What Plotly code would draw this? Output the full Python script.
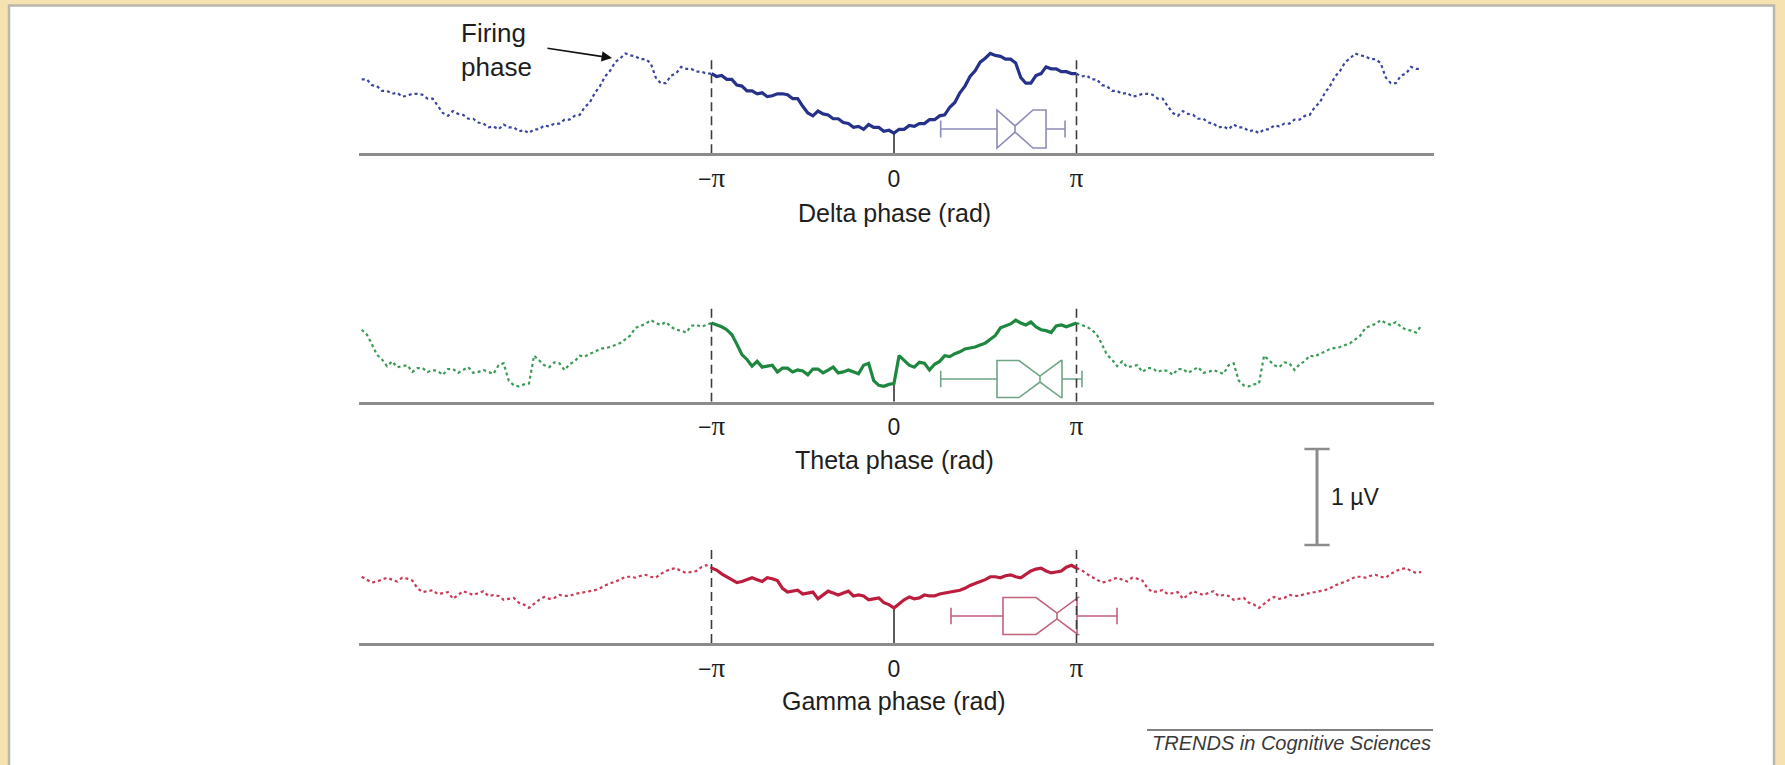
import numpy as np
import plotly.graph_objects as go

PI = np.pi

# ---------------------------------------------------------------------------
# Data
# One phase cycle of the spike-triggered LFP average for each band, sampled at
# 72 evenly spaced phases from -pi (inclusive) to +pi (exclusive), in µV above
# the baseline.  The cycle is repeated on either side of the central period.
# ---------------------------------------------------------------------------
N_PHASE = 72
bands = ["Delta", "Theta", "Gamma"]

delta_uv = [0.83, 0.80, 0.81, 0.77, 0.77, 0.71, 0.70, 0.65, 0.65, 0.62, 0.63, 0.59,
            0.60, 0.62, 0.62, 0.61, 0.57, 0.57, 0.49, 0.42, 0.39, 0.44, 0.41, 0.40,
            0.36, 0.36, 0.32, 0.31, 0.27, 0.28, 0.25, 0.30, 0.27, 0.27, 0.23, 0.24,
            0.21, 0.25, 0.25, 0.29, 0.28, 0.31, 0.31, 0.35, 0.35, 0.39, 0.40, 0.48,
            0.53, 0.63, 0.70, 0.80, 0.86, 0.95, 0.99, 1.04, 1.02, 1.01, 0.98, 0.98,
            0.94, 0.79, 0.73, 0.73, 0.81, 0.83, 0.90, 0.88, 0.88, 0.85, 0.85, 0.83]

theta_uv = [0.82, 0.80, 0.78, 0.75, 0.70, 0.60, 0.49, 0.44, 0.37, 0.42, 0.36, 0.37,
            0.38, 0.31, 0.35, 0.35, 0.31, 0.33, 0.32, 0.28, 0.34, 0.34, 0.30, 0.33,
            0.36, 0.30, 0.31, 0.33, 0.31, 0.29, 0.38, 0.40, 0.22, 0.17, 0.16, 0.18,
            0.19, 0.48, 0.43, 0.38, 0.36, 0.41, 0.40, 0.33, 0.39, 0.42, 0.48, 0.47,
            0.50, 0.52, 0.55, 0.56, 0.57, 0.59, 0.61, 0.65, 0.69, 0.77, 0.79, 0.81,
            0.85, 0.82, 0.80, 0.83, 0.78, 0.75, 0.74, 0.72, 0.79, 0.80, 0.78, 0.80]

gamma_uv = [0.78, 0.76, 0.72, 0.69, 0.66, 0.63, 0.64, 0.66, 0.68, 0.66, 0.64, 0.68,
            0.67, 0.65, 0.57, 0.53, 0.54, 0.55, 0.51, 0.52, 0.53, 0.46, 0.50, 0.54,
            0.52, 0.50, 0.52, 0.54, 0.49, 0.50, 0.49, 0.45, 0.46, 0.47, 0.42, 0.40,
            0.365, 0.41, 0.45, 0.48, 0.46, 0.47, 0.50, 0.49, 0.49, 0.51, 0.52, 0.53,
            0.54, 0.55, 0.57, 0.60, 0.62, 0.64, 0.66, 0.69, 0.69, 0.68, 0.70, 0.71,
            0.69, 0.68, 0.72, 0.75, 0.77, 0.78, 0.75, 0.73, 0.74, 0.75, 0.79, 0.81]

# Firing-phase distributions (radians), one entry per band
box_lowerfence = [0.804, 0.804, 0.981]
box_q1 = [1.773, 1.773, 1.876]
box_median = [2.083, 2.513, 2.806]
box_q3 = [2.617, 2.892, 3.150]
box_upperfence = [2.944, 3.236, 3.839]
box_notchspan = [0.310, 0.361, 0.361]

tick_phases = [-PI, 0.0, PI]
PI_GLYPH = ("<span style='font-family:Liberation Serif, Times New Roman, serif;"
            "font-size:27px'>π</span>")
tick_labels = ["−" + PI_GLYPH, "0", PI_GLYPH]

SCALE_UV = 1.0

# ---------------------------------------------------------------------------
# Layout geometry (pixels of the 1785 x 765 page)
# ---------------------------------------------------------------------------
W, H = 1785, 765
PX_PER_PI = 182.5
ZERO_PX = 894
AX_LEFT_PX, AX_RIGHT_PX = 359, 1434
UV_PX = 96.0
TRACE_LO, TRACE_HI = -2.926 * PI, 2.90 * PI


def px_x(px):
    return px / W


def px_y(py):
    return 1 - py / H


x_range = [(AX_LEFT_PX - ZERO_PX) / PX_PER_PI * PI,
           (AX_RIGHT_PX - ZERO_PX) / PX_PER_PI * PI]

panel_style = [
    dict(base=153.3, top=26, line="#26328a", dots="#3a479f", box="#8c8cba",
         box_y=0.253, box_h=0.396, title_y=213),
    dict(base=401.7, top=288, line="#1e8740", dots="#3b9b56", box="#6fa585",
         box_y=0.236, box_h=0.385, title_y=460),
    dict(base=643.0, top=530, line="#bd1d3c", dots="#c83a55", box="#c4607a",
         box_y=0.281, box_h=0.385, title_y=701),
]
series = [delta_uv, theta_uv, gamma_uv]

FONT = "Liberation Sans, Arial, Helvetica, sans-serif"
INK = "#1e1e1e"
AXIS_GREY = "#8c8c8c"

fig = go.Figure()
annotations = []
shapes = []
axes = {}

base_phase = -PI + 2 * PI * np.arange(N_PHASE) / N_PHASE

for i, (band, vals, st) in enumerate(zip(bands, series, panel_style)):
    n = i + 1
    xa, ya = ("x", "y") if n == 1 else (f"x{n}", f"y{n}")
    v = np.array(vals, dtype=float)

    # central period, closed at +pi
    ph_c = np.append(base_phase, PI)
    v_c = np.append(v, v[0])
    # neighbouring periods
    ph_l = ph_c - 2 * PI
    keep_l = ph_l >= TRACE_LO
    ph_r = ph_c + 2 * PI
    keep_r = ph_r <= TRACE_HI

    for ph, vv in ((ph_l[keep_l], v_c[keep_l]), (ph_r[keep_r], v_c[keep_r])):
        fig.add_trace(go.Scatter(x=ph, y=vv, mode="lines", xaxis=xa, yaxis=ya,
                                 line=dict(color=st["dots"], width=2.2, dash="dot"),
                                 hoverinfo="skip", showlegend=False))

    # dashed period boundaries at -pi and +pi
    fig.add_trace(go.Scatter(x=[-PI, -PI, None, PI, PI], y=[0, 0.99, None, 0, 0.99],
                             mode="lines", xaxis=xa, yaxis=ya,
                             line=dict(color="#3c3c3c", width=1.6, dash="9px,5px"),
                             hoverinfo="skip", showlegend=False))

    # stem from the baseline up to the average at zero phase
    fig.add_trace(go.Scatter(x=[0, 0], y=[0, v[N_PHASE // 2]], mode="lines",
                             xaxis=xa, yaxis=ya,
                             line=dict(color="#333333", width=1.6),
                             hoverinfo="skip", showlegend=False))

    fig.add_trace(go.Scatter(x=ph_c, y=v_c, mode="lines", xaxis=xa, yaxis=ya,
                             line=dict(color=st["line"], width=3.2),
                             hoverinfo="skip", showlegend=False))

    fig.add_trace(go.Box(
        y=[st["box_y"]], orientation="h",
        lowerfence=[box_lowerfence[i]], q1=[box_q1[i]], median=[box_median[i]],
        q3=[box_q3[i]], upperfence=[box_upperfence[i]], notchspan=[box_notchspan[i]],
        notched=True, notchwidth=0.42, whiskerwidth=0.45, width=st["box_h"],
        fillcolor="rgba(0,0,0,0)", line=dict(color=st["box"], width=1.6),
        boxpoints=False, xaxis=xa, yaxis=ya, hoverinfo="skip", showlegend=False))

    axes[f"xaxis{'' if n == 1 else n}"] = dict(
        domain=[px_x(AX_LEFT_PX), px_x(AX_RIGHT_PX)], range=x_range, anchor=ya,
        showline=True, linecolor=AXIS_GREY, linewidth=3, showgrid=False, zeroline=False,
        tickmode="array", tickvals=tick_phases, ticktext=tick_labels,
        ticks="outside", ticklen=3, tickcolor="rgba(0,0,0,0)",
        tickfont=dict(family=FONT, size=23, color=INK), fixedrange=True)
    axes[f"yaxis{'' if n == 1 else n}"] = dict(
        domain=[px_y(st["base"]), px_y(st["top"])],
        range=[0, (st["base"] - st["top"]) / UV_PX], anchor=xa,
        visible=False, showgrid=False, zeroline=False, fixedrange=True)

    annotations.append(dict(text=f"{band} phase (rad)", xref=xa, x=0, yref="paper",
                            y=px_y(st["title_y"]), xanchor="center", yanchor="middle",
                            showarrow=False, font=dict(family=FONT, size=25, color=INK)))

# 1 µV scale bar on its own small axis pair with the same µV-to-pixel scale
axes["xaxis4"] = dict(domain=[px_x(1300), px_x(1334)], range=[-1, 1], anchor="y4",
                      visible=False, fixedrange=True)
axes["yaxis4"] = dict(domain=[px_y(449 + SCALE_UV * UV_PX), px_y(449)], range=[0, SCALE_UV],
                      anchor="x4", visible=False, fixedrange=True)
fig.add_trace(go.Scatter(x=[0, 0], y=[0, SCALE_UV], mode="lines+markers",
                         xaxis="x4", yaxis="y4", cliponaxis=False,
                         line=dict(color=AXIS_GREY, width=3),
                         marker=dict(symbol="line-ew", size=18,
                                     line=dict(color=AXIS_GREY, width=2.5)),
                         hoverinfo="skip", showlegend=False))
annotations.append(dict(text="1 µV", xref="paper", x=px_x(1329), yref="paper",
                        y=px_y(497), xanchor="left", yanchor="middle", showarrow=False,
                        font=dict(family=FONT, size=23, color=INK)))

# firing-phase callout
annotations.append(dict(text="Firing<br>phase", xref="paper", x=px_x(459), yref="paper",
                        y=px_y(50), xanchor="left", yanchor="middle", align="left",
                        showarrow=False, font=dict(family=FONT, size=26, color=INK)))
annotations.append(dict(text="", xref="paper", x=px_x(612), yref="paper", y=px_y(58),
                        ax=-66, ay=-10, axref="pixel", ayref="pixel", showarrow=True,
                        arrowhead=2, arrowsize=1.3, arrowwidth=1.6, arrowcolor="#111111"))

# journal credit
annotations.append(dict(text="<i>TRENDS in Cognitive Sciences</i>", xref="paper",
                        x=px_x(1433), yref="paper", y=px_y(743), xanchor="right",
                        yanchor="middle", showarrow=False,
                        font=dict(family=FONT, size=20, color="#3a3a3a")))
shapes.append(dict(type="line", xref="paper", yref="paper", x0=px_x(1147), x1=px_x(1433),
                   y0=px_y(730), y1=px_y(730), line=dict(color="#555555", width=1.5)))

# white slide panel inside the gold frame
shapes.append(dict(type="rect", xref="paper", yref="paper", layer="below",
                   x0=px_x(9), x1=px_x(1774), y0=px_y(770), y1=px_y(5.5),
                   fillcolor="#ffffff", line=dict(color="#b9b7ad", width=2.5)))

fig.update_layout(
    width=W, height=H, margin=dict(l=0, r=0, t=0, b=0),
    paper_bgcolor="#f6e2b1", plot_bgcolor="rgba(0,0,0,0)",
    showlegend=False, annotations=annotations, shapes=shapes,
    font=dict(family=FONT, color=INK), **axes)

fig.write_html("out.html")
